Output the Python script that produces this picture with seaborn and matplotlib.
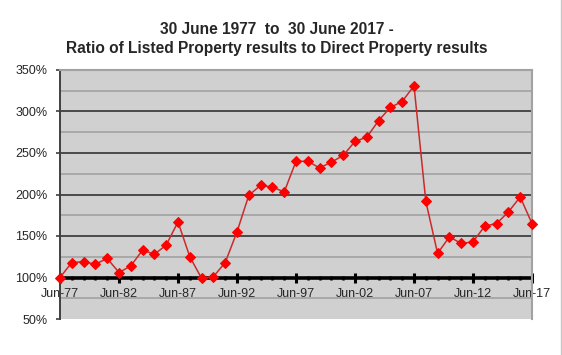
import numpy as np
import pandas as pd
import matplotlib
matplotlib.use("Agg")
import matplotlib.pyplot as plt
import matplotlib.ticker as mticker
import seaborn as sns

# Ratio of listed to direct property results, June each year (percent)
years = list(range(1977, 2018))
ratio = [100, 118, 119, 116, 123, 106, 114, 133, 128, 139,
         167, 125, 99, 101, 118, 155, 199, 211, 209, 203,
         240, 240, 232, 239, 247, 264, 269, 289, 305, 312,
         331, 192, 129, 149, 141, 143, 162, 165, 179, 197,
         165]
major_years = list(range(1977, 2018, 5))
x_labels = [f"Jun-{y % 100:02d}" for y in major_years]
y_ticks = list(range(50, 351, 50))

df = pd.DataFrame({"year": years, "ratio": ratio})

sns.set_style("white")
plt.rcParams["font.family"] = ["Liberation Sans", "DejaVu Sans"]

fig = plt.figure(figsize=(5.62, 3.55), dpi=100)
ax = fig.add_axes([60 / 562, 36 / 355, 472 / 562, 249 / 355])
ax.set_facecolor("#d0d0d0")

# gridlines: dark on the 50s, lighter in between
for v in y_ticks[2:-1]:
    ax.axhline(v, color="#333333", lw=1.2, zorder=1)
for v in range(75, 350, 50):
    ax.axhline(v, color="#a2a2a2", lw=1.2, zorder=1)
ax.axhline(350, color="#a2a2a2", lw=1.5, zorder=1)

sns.lineplot(data=df, x="year", y="ratio", ax=ax, color="#cc2a2a", lw=1.1,
             marker="D", markersize=5, markerfacecolor="#ff0000",
             markeredgecolor="#ff0000", zorder=3, clip_on=False)

ax.set_xlim(1977, 2017)
ax.set_ylim(50, 350)
ax.set_xlabel("")
ax.set_ylabel("")

ax.spines["bottom"].set_position(("data", 100))
ax.spines["bottom"].set_linewidth(2.6)
ax.spines["bottom"].set_color("black")
ax.spines["bottom"].set_zorder(2)
ax.spines["left"].set_color("#404040")
ax.spines["left"].set_linewidth(1.4)
for s in ("top", "right"):
    ax.spines[s].set_color("#a2a2a2")
    ax.spines[s].set_linewidth(1.5)

ax.set_xticks(major_years)
ax.set_xticklabels(x_labels)
ax.xaxis.set_minor_locator(mticker.MultipleLocator(1))
ax.tick_params(axis="x", which="major", bottom=True, direction="inout", length=7,
               width=2.2, color="black", pad=4, labelsize=9)
ax.tick_params(axis="x", which="minor", bottom=True, direction="inout", length=3.5,
               width=1.8, color="black")
ax.set_yticks(y_ticks)
ax.yaxis.set_major_formatter(mticker.FuncFormatter(lambda v, p: f"{v:.0f}%"))
ax.tick_params(axis="y", which="major", direction="out", length=3, width=1.2,
               color="#404040", pad=6, labelsize=9, left=True)

fig.text(0.493, 1 - 30 / 355, "30 June 1977  to  30 June 2017 -", ha="center",
         va="center", fontsize=11.2, fontweight="bold")
fig.text(0.493, 1 - 48 / 355, "Ratio of Listed Property results to Direct Property results",
         ha="center", va="center", fontsize=11.2, fontweight="bold")

fig.add_artist(plt.Line2D([561 / 562, 561 / 562], [0, 1], color="#c8c8c8", lw=1))

fig.savefig("out.png", dpi=100, facecolor="white")
